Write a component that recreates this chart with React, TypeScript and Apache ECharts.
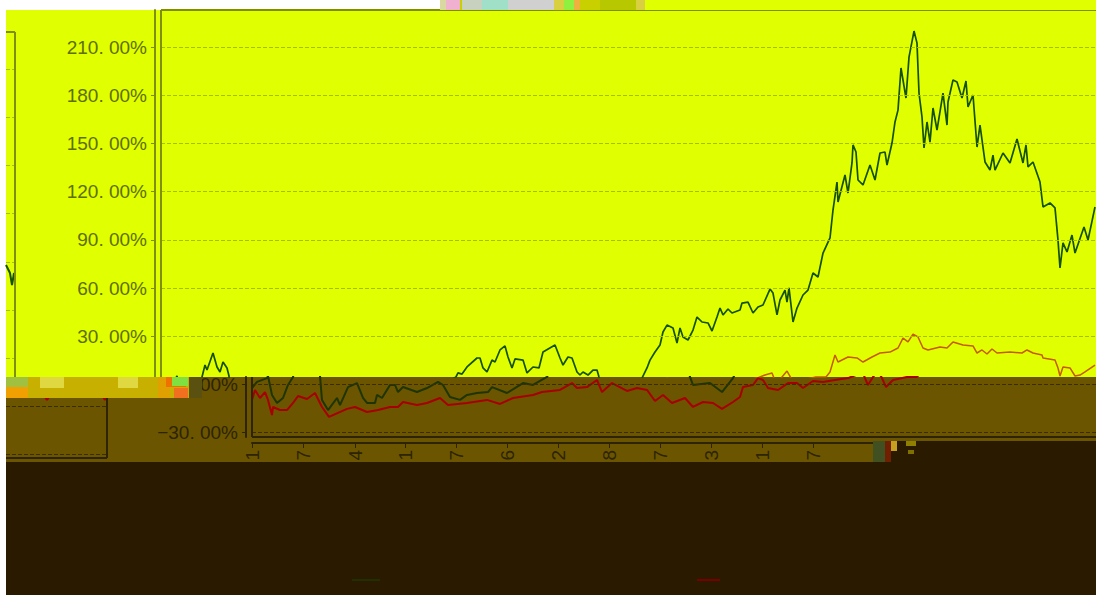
import React, { useEffect, useRef } from "react";
import * as echarts from "echarts";

// Trading-day position and cumulative return (%)
const fundDays = [0,5,15,16,20,25,31,36,41,44,46,52,56,59,62,66,68,70,76,85,88,96,105,111,115,123,125,130,138,143,146,151,165,175,186,191,198,208,215,225,236,240,255,271,281,295,297,301,306,316,319,322,326,331,334,339,344,347,351,354,362,366,372,378,382,394,399,402,407,411,416,419,422,427,432,436,438,441,458,470,481,486,489,494,499,502,506,512,516,519,522,527,532,536,541,547,551,556,559,562,567,571,579,581,587,592,597,602,609,612,616,619,624,626,628,632,636,642,647,652,657,662,669,672,676,677,684,687,691,692,695,697,702,709,714,719,724,726,731,734,737,740,745,748,753,756,758,761,763,766,769,772,776,782,786,787,792,796,801,805,807,812,816,819,824,829,832,834,842,849,856,862,865,867,872,879,882,889,894,897,899,902,906,911,914,923,927,934];
const fundValues = [-2.2,1.6,4.0,5.3,-6.5,-11.5,-8.4,-0.3,4.7,12.1,9.0,19.6,10.9,7.8,14.0,10.3,5.3,-9.6,-15.9,-8.4,-12.8,-1.6,0.9,-8.4,-11.5,-11.5,-6.5,-8.4,-0.3,-0.3,-4.7,-1.6,-4.7,-2.2,1.6,-0.3,-7.8,-9.6,-6.5,-5.3,-4.7,-1.6,-5.3,0.9,-0.3,4.7,7.2,6.5,10.9,16.5,16.5,10.3,7.8,15.2,14.0,21.5,24.0,17.1,10.3,15.9,15.2,7.2,10.9,10.3,20.2,24.6,16.5,12.1,17.1,16.5,7.8,5.9,7.8,5.9,9.0,9.0,4.7,-0.3,0.9,-4.7,4.0,10.3,15.2,20.2,24.6,32.7,37.0,35.2,25.8,35.2,29.6,27.7,33.9,42.0,38.9,38.3,33.3,42.0,47.6,43.3,47.0,44.5,46.4,50.7,51.3,44.5,48.2,49.5,59.4,56.9,43.3,52.6,58.8,51.3,60.1,38.9,47.6,55.7,58.8,69.4,66.9,81.8,91.2,108.6,126.0,113.6,130.4,119.2,137.9,149.1,144.7,127.3,124.2,136.6,127.3,144.1,144.7,136.6,150.3,163.4,170.8,197.0,178.3,203.8,220.0,212.5,181.4,166.5,147.2,163.4,150.9,172.1,158.4,181.4,161.5,175.8,189.5,188.3,178.3,188.9,172.7,180.2,147.8,161.5,138.5,133.5,142.8,133.5,144.1,137.9,152.8,137.9,149.1,135.4,138.5,126.0,110.5,113.0,109.9,89.9,72.5,88.1,82.5,93.0,81.8,98.0,89.9,110.5];
const benchDays = [0,3,8,13,16,20,21,28,35,41,46,55,63,70,77,86,95,103,115,126,138,146,151,165,175,188,196,215,235,248,261,281,290,308,320,325,335,345,350,360,375,385,395,403,411,420,433,441,451,461,470,481,488,491,501,506,511,516,526,536,545,551,561,571,583,596,604,611,613,616,621,626,630,634,641,655,665,669,674,677,687,696,702,711,719,729,737,742,747,752,757,762,767,779,786,792,802,812,816,821,826,831,836,849,861,866,872,881,882,894,897,899,902,909,914,919,924,934];
const benchValues = [-9.6,-3.4,-8.4,-4.7,-9.6,-19.0,-14.0,-15.9,-15.9,-11.5,-7.2,-9.0,-5.3,-14.0,-20.2,-17.7,-15.2,-14.0,-17.1,-15.9,-14.0,-14.0,-10.9,-12.8,-11.5,-8.4,-12.8,-11.5,-9.6,-12.1,-8.4,-6.5,-4.7,-3.4,0.9,-2.2,-1.6,2.8,-4.7,0.9,-4.0,-2.2,-3.4,-10.3,-6.5,-11.5,-8.4,-14.0,-10.9,-11.5,-15.2,-10.9,-7.8,-1.6,-0.3,4.0,2.8,-2.2,-3.4,0.9,0.9,-2.2,2.2,1.6,2.8,4.0,5.9,7.2,4.0,-0.3,4.7,8.4,4.0,-1.6,2.8,4.7,4.7,7.8,18.4,14.0,17.1,16.5,14.0,17.1,19.6,20.2,22.7,28.9,26.5,31.4,29.6,22.7,21.5,23.3,22.7,26.5,24.6,24.0,19.6,21.5,19.0,22.1,19.6,20.2,19.6,21.5,19.6,18.4,16.5,15.2,10.3,5.3,10.9,10.3,5.3,5.9,7.8,12.1];
// The two pieces that wrap round to the left edge of the picture
const fundTailDays = [935,939,941,943];
const fundTailValues = [88.1,83.1,75.6,83.1];
const benchTailDays = [880,885,890,938,943,945];
const benchTailValues = [9,4,9,9,4,9];

const upperTicks = [30,60,90,120,150,180,210];
const lowerTicks = [0,-30];
const wrapLowerTicks = [0,-30];
const xTickDays = [0,51,103,153,204,255,306,357,408,459,510,561];
const xTickLabels = ["1","7","4","1","7","6","2","8","7","3","1","7"];

const YELLOW = "#e0ff00", OLIVE = "#6b5500", DARK = "#2a1a00";
const pct = (v: number) => `${String(v).replace("-", "\u2212")}. 00%`;
const pairs = (d: number[], v: number[]) => d.map((x, i) => [x, v[i]]);

const patches: [number, number, number, number, string][] = [
  // top strip
  [440,0,205,10,"#c8d000"],[440,0,14,10,"#d8d8a0"],[446,0,14,10,"#f0b0d0"],[462,0,20,10,"#c8d0c0"],[482,0,30,10,"#a0e0c8"],[508,0,46,10,"#d0d0d0"],[554,0,10,10,"#d8d040"],[564,0,12,10,"#90f040"],[574,0,6,10,"#f0b040"],[600,0,36,10,"#b8c800"],[636,0,10,10,"#d8d040"],[645,0,451,10,YELLOW],
  // noise row on the left
  [6,377,184,21,"#c8b000"],[6,377,22,10,"#a0c040"],[6,387,22,11,"#f0a000"],[40,377,24,11,"#e0d840"],[118,377,20,11,"#e0d840"],[158,377,12,21,"#e0a000"],[166,377,20,10,"#f07000"],[172,377,16,9,"#80e040"],[174,388,14,10,"#f07020"],[189,377,13,21,"#5a5010"],
  // noise at the end of the axis
  [873,441,12,21,"#405020"],[885,441,6,21,"#702000"],[891,441,6,10,"#c8a020"],[906,441,10,5,"#908000"],[908,450,6,4,"#807000"],
];

export default function App() {
  const ref = useRef<HTMLDivElement>(null);
  useEffect(() => {
    document.body.style.margin = "0";
    const chart = echarts.init(ref.current!, undefined, { renderer: "svg" });
    const font = { fontFamily: "Liberation Sans", fontSize: 19 };
    const yAxisBase = (gridIndex: number, min: number, max: number, ticks: number[], text: string | null, line: string, offset: number) => ({
      type: "value", gridIndex, min, max, offset,
      axisLine: { show: offset > 0, onZero: false, lineStyle: { color: line, width: 2 } },
      axisTick: { show: offset > 0, length: 4, customValues: ticks, lineStyle: { color: line } },
      axisLabel: text ? { show: true, customValues: ticks, formatter: pct, color: text, margin: 8, ...font } : { show: false },
      splitLine: { show: false },
      splitNumber: 1,
    });
    const xAxisBase = (gridIndex: number, min: number, max: number) => ({
      type: "value", gridIndex, min, max,
      axisLine: { show: false }, axisTick: { show: false }, axisLabel: { show: false }, splitLine: { show: false },
    });
    const lineSeries = (i: number, data: number[][], color: string, width = 1.8) => ({
      type: "line", xAxisIndex: i, yAxisIndex: i, data, showSymbol: false, clip: true,
      lineStyle: { color, width }, itemStyle: { color }, z: 3,
    });
    const dashes = (i: number, values: number[], color: string) => ({
      type: "line", xAxisIndex: i, yAxisIndex: i, data: [], silent: true,
      markLine: { symbol: "none", silent: true, animation: false, label: { show: false },
        lineStyle: { color, type: "dashed", width: 1 }, data: values.map((yAxis) => ({ yAxis })) },
    });
    const rect = (x: number, y: number, w: number, h: number, fill: string, z: number) => ({
      type: "rect", shape: { x, y, width: w, height: h }, style: { fill }, z, silent: true,
    });
    const line = (x1: number, y1: number, x2: number, y2: number, stroke: string, z = 20, lineWidth = 2) => ({
      type: "line", shape: { x1, y1, x2, y2 }, style: { stroke, lineWidth }, z, silent: true,
    });

    const xLower = {
      type: "value", gridIndex: 1, min: 0, max: 844, position: "bottom", offset: 6,
      axisLine: { show: true, onZero: false, lineStyle: { color: "#2e2400", width: 2 } },
      axisTick: { show: true, length: 5, customValues: xTickDays, lineStyle: { color: "#2e2400" } },
      axisLabel: {
        show: true, rotate: 90, margin: 7, color: "#2e2400", customValues: xTickDays,
        formatter: (v: number) => xTickLabels[xTickDays.indexOf(v)] ?? "", ...font,
      },
      splitLine: { show: false },
    };

    chart.setOption({
      animation: false,
      backgroundColor: "#ffffff",
      grid: [
        { left: 161, top: 10, width: 935, height: 367 },
        { left: 252, top: 377, width: 844, height: 60 },
        { left: 6, top: 32, width: 9, height: 345 },
        { left: 6, top: 398, width: 101, height: 60 },
      ],
      xAxis: [xAxisBase(0, 0, 935), xLower, xAxisBase(2, 935, 944), xAxisBase(3, 844, 945)],
      yAxis: [
        yAxisBase(0, 4.67, 233.1, upperTicks, "#5f6e00", "#7f8f00", 6),
        yAxisBase(1, -32.7, 4.67, lowerTicks, "#2e2400", "#2e2400", 6),
        yAxisBase(2, 18.4, 233.1, upperTicks, null, "#7f8f00", 0),
        yAxisBase(3, -32.05, 5.3, wrapLowerTicks, null, "#2e2400", 0),
      ],
      series: [
        dashes(0, upperTicks, "#a9bf00"),
        dashes(1, lowerTicks, "#3a2e00"),
        dashes(2, upperTicks, "#a9bf00"),
        dashes(3, wrapLowerTicks, "#3a2e00"),
        lineSeries(0, pairs(benchDays, benchValues), "#c85a00", 1.5),
        lineSeries(0, pairs(fundDays, fundValues), "#145000", 1.7),
        lineSeries(1, pairs(benchDays, benchValues), "#a80000", 2),
        lineSeries(1, pairs(fundDays, fundValues), "#1f3500", 2),
        lineSeries(2, pairs(fundTailDays, fundTailValues), "#145000", 2),
        lineSeries(3, pairs(benchTailDays, benchTailValues), "#a80000", 2),
      ],
      graphic: [
        rect(6, 10, 1090, 367, YELLOW, -20),
        rect(6, 377, 1090, 85, OLIVE, -20),
        rect(6, 462, 1090, 133, DARK, 40),
        rect(873, 441, 223, 21, DARK, 40),
        ...patches.map(([x, y, w, h, c]) => rect(x, y, w, h, c, 45)),
        line(161, 10, 1096, 10, "#7f8f00"),
        line(161, 10, 161, 377, "#7f8f00"),
        line(6, 32, 15, 32, "#7f8f00"),
        line(15, 32, 15, 377, "#7f8f00"),
        line(252, 377, 252, 437, "#2e2400"),
        line(252, 437, 1096, 437, "#2e2400"),
        line(107, 398, 107, 458, "#2e2400"),
        line(6, 458, 107, 458, "#2e2400"),
        line(352, 580, 380, 580, "#203000", 46, 2),
        line(697, 580, 720, 580, "#780000", 46, 2),
      ],
    });
    return () => chart.dispose();
  }, []);
  return <div ref={ref} style={{ position: "absolute", left: 0, top: 0, width: 1096, height: 595 }} />;
}
